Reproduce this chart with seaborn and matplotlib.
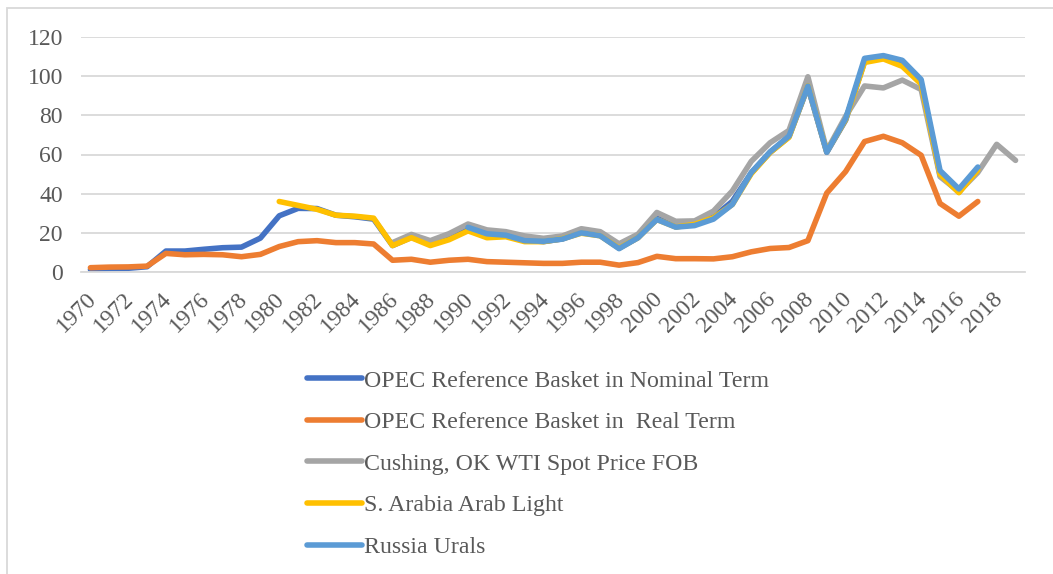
import numpy as np
import pandas as pd
import matplotlib.pyplot as plt
import seaborn as sns
from matplotlib.lines import Line2D
from matplotlib.patches import Rectangle
from matplotlib.transforms import ScaledTranslation

years = list(range(1970, 2020))
nan = np.nan

# OPEC basket, nominal (1970-2017)
opec_nominal = [1.2, 1.7, 1.9, 2.7, 10.7, 10.7, 11.6, 12.4, 12.7, 17.3,
                28.7, 32.5, 32.4, 29.0, 28.2, 27.0, 13.5, 17.7, 14.2, 17.3,
                22.3, 18.6, 18.4, 16.3, 15.5, 16.9, 20.3, 18.7, 12.3, 17.5,
                27.6, 23.1, 24.4, 28.1, 36.1, 50.6, 61.1, 69.1, 94.5, 61.1,
                77.5, 107.5, 109.5, 105.9, 96.3, 49.5, 40.8, 52.4, nan, nan]

# OPEC basket, real (1970-2017)
opec_real = [2.2, 2.5, 2.6, 3.0, 9.5, 8.8, 9.0, 8.8, 7.8, 9.0,
             13.0, 15.5, 16.0, 15.0, 15.0, 14.3, 6.0, 6.5, 5.0, 6.0,
             6.5, 5.3, 5.0, 4.7, 4.4, 4.4, 5.0, 5.0, 3.5, 4.8,
             8.0, 6.8, 6.8, 6.7, 7.8, 10.3, 12.0, 12.5, 16.0, 40.3,
             51.3, 66.6, 69.3, 66.0, 59.6, 35.0, 28.5, 36.0, nan, nan]

# WTI Cushing (1986-2019)
wti = [nan] * 16 + [15.0, 19.2, 16.0, 19.6,
                    24.5, 21.5, 20.6, 18.4, 17.2, 18.4, 22.1, 20.6, 14.4, 19.3,
                    30.4, 25.9, 26.1, 31.1, 41.4, 56.5, 66.0, 72.3, 99.7, 61.9,
                    79.5, 95.0, 94.0, 98.0, 93.2, 48.7, 41.0, 50.8, 65.2, 57.0]

# Arab Light (1980-2017)
arab_light = [nan] * 10 + [36.0, 34.0, 32.0, 29.0, 28.5, 27.5, 13.5, 17.5, 13.5, 16.5,
                           21.0, 17.5, 18.0, 15.5, 15.5, 17.0, 19.8, 18.5, 12.2, 17.5,
                           26.8, 23.0, 24.3, 27.7, 34.5, 50.2, 61.0, 68.8, 95.0, 61.4,
                           77.8, 107.0, 108.8, 105.0, 96.0, 49.9, 40.5, 52.1, nan, nan]

# Russia Urals (1990-2017)
urals = [nan] * 20 + [22.8, 19.5, 18.8, 16.0, 15.7, 16.8, 20.0, 18.5, 11.9, 17.5,
                      26.8, 22.9, 23.7, 27.0, 34.5, 50.8, 61.4, 69.4, 94.9, 61.2,
                      78.3, 109.1, 110.5, 108.1, 98.3, 51.8, 42.4, 53.6, nan, nan]

series = {
    "OPEC Reference Basket in Nominal Term": opec_nominal,
    "OPEC Reference Basket in  Real Term": opec_real,
    "Cushing, OK WTI Spot Price FOB": wti,
    "S. Arabia Arab Light": arab_light,
    "Russia Urals": urals,
}
colors = ["#4472C4", "#ED7D31", "#A5A5A5", "#FFC000", "#5B9BD5"]

df = pd.DataFrame(series, index=years)
df.index.name = "year"
long = df.reset_index().melt(id_vars="year", var_name="series", value_name="price").dropna()

sns.set_theme(style="white")
plt.rcParams["font.family"] = ["Liberation Serif", "DejaVu Serif"]

fig = plt.figure(figsize=(10.53, 5.74), dpi=100)
ax = fig.add_axes([81 / 1053, 1 - 272 / 574, (1025 - 81) / 1053, (272 - 37) / 574])

sns.lineplot(data=long, x="year", y="price", hue="series",
             hue_order=list(series.keys()), palette=colors,
             linewidth=4, ax=ax, legend=False)

ax.set_xlim(1969.5, 2019.5)
ax.set_ylim(0, 120)
ax.set_yticks(range(0, 121, 20))
ax.set_xticks(range(1970, 2019, 2))
ax.set_xticklabels([str(y) for y in range(1970, 2019, 2)], rotation=45,
                   ha="right", rotation_mode="anchor")
ax.tick_params(axis="both", labelsize=17, colors="#595959", length=0)
ax.tick_params(axis="x", pad=12)
ax.tick_params(axis="y", pad=13)
shift = ScaledTranslation(-5 / 100, 0, fig.dpi_scale_trans)
for lbl in ax.get_xticklabels():
    lbl.set_transform(lbl.get_transform() + shift)
ax.grid(axis="y", color="#D9D9D9", linewidth=1.3)
ax.set_axisbelow(True)
for side in ["left", "right", "top"]:
    ax.spines[side].set_visible(False)
ax.spines["bottom"].set_color("#D9D9D9")
ax.spines["bottom"].set_linewidth(1.3)
ax.set_xlabel("")
ax.set_ylabel("")

handles = [Line2D([], [], color=c, linewidth=4, solid_capstyle="round") for c in colors]
fig.legend(handles, list(series.keys()), loc="upper left",
           bbox_to_anchor=(295 / 1053, 1 - 358 / 574), frameon=False,
           fontsize=17.2, labelcolor="#595959", handlelength=2.3,
           handletextpad=0.1, labelspacing=0.83, borderpad=0)

# outer chart border (partly cropped)
fig.patches.append(Rectangle((7 / 1053, -0.1), 1.2, 1 - 8 / 574 + 0.1,
                             transform=fig.transFigure, fill=False,
                             edgecolor="#D9D9D9", linewidth=1.3))

fig.savefig("out.png", dpi=100)
